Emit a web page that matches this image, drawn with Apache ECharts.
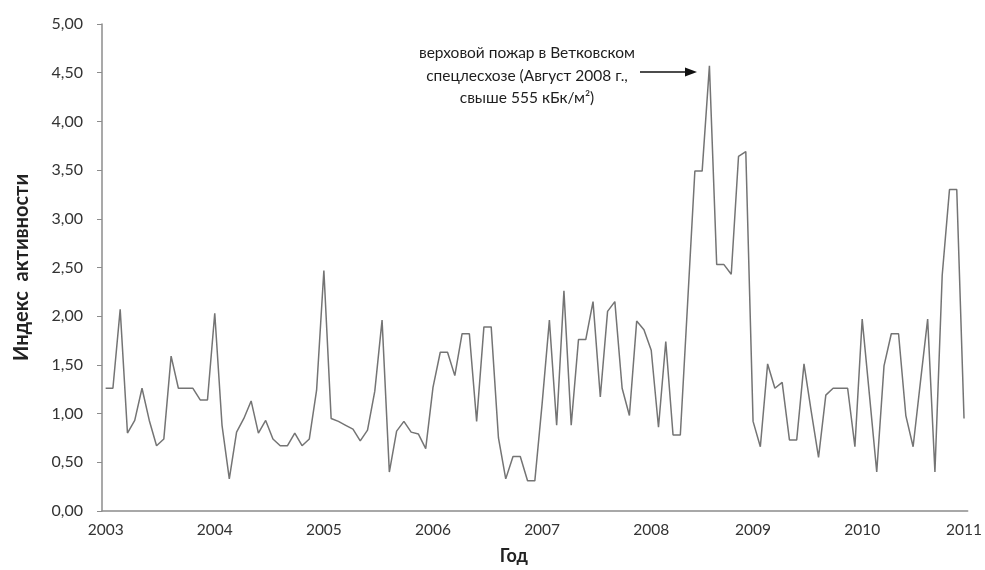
<!DOCTYPE html>
<html>
<head>
<meta charset="utf-8">
<script src="https://cdn.jsdelivr.net/npm/echarts@6/dist/echarts.min.js"></script>
<style>html,body{margin:0;padding:0;background:#fff;}#c{width:985px;height:570px;}</style>
</head>
<body>
<div id="c"></div>
<script>
const yearLabels = ['2003','2004','2005','2006','2007','2008','2009','2010','2011'];
const yearLabelIndex = [0,15,30,45,60,75,89,104,118];
const values = [
1.26,1.26,2.07,0.80,0.93,1.26,0.93,0.67,0.74,1.59,
1.26,1.26,1.26,1.14,1.14,2.03,0.88,0.33,0.81,0.95,
1.13,0.80,0.93,0.74,0.67,0.67,0.80,0.67,0.74,1.24,
2.47,0.95,0.92,0.88,0.84,0.72,0.83,1.23,1.96,0.40,
0.82,0.92,0.81,0.79,0.64,1.27,1.63,1.63,1.39,1.82,
1.82,0.92,1.89,1.89,0.75,0.33,0.56,0.56,0.31,0.31,
1.10,1.96,0.88,2.26,0.88,1.76,1.76,2.15,1.17,2.05,
2.15,1.26,0.98,1.95,1.86,1.65,0.86,1.74,0.78,0.78,
2.13,3.49,3.49,4.57,2.53,2.53,2.43,3.64,3.69,0.92,
0.66,1.51,1.26,1.32,0.73,0.73,1.51,1.02,0.55,1.19,
1.26,1.26,1.26,0.66,1.97,1.19,0.40,1.49,1.82,1.82,
0.98,0.66,1.32,1.97,0.40,2.42,3.30,3.30,0.95
];
const annotationText = 'верховой пожар в Ветковском\nспецлесхозе (Август 2008 г.,\nсвыше 555 кБк/м²)';
const yTitle = 'Индекс  активности';
const xTitle = 'Год';

const categories = values.map(() => '');
yearLabelIndex.forEach((idx, i) => { categories[idx] = yearLabels[i]; });

const FONT = 'Lato';
const chart = echarts.init(document.getElementById('c'), null, {renderer: 'canvas'});
chart.setOption({
  animation: false,
  backgroundColor: '#ffffff',
  grid: {left: 102, right: 15, top: 24, bottom: 57, containLabel: false},
  xAxis: {
    type: 'category',
    data: categories,
    boundaryGap: true,
    axisLine: {show: true, lineStyle: {color: '#8c8c8c', width: 1.5}},
    axisTick: {show: false},
    axisLabel: {interval: 0, color: '#333', fontSize: 15.5, fontFamily: FONT, margin: 11},
    name: xTitle,
    nameLocation: 'middle',
    nameGap: 36,
    nameTextStyle: {fontSize: 18, fontWeight: 'bold', color: '#222', fontFamily: FONT,
      padding: [0, 42, 0, 0]},
    splitLine: {show: false}
  },
  yAxis: {
    type: 'value',
    min: 0, max: 5, interval: 0.5,
    axisLine: {show: true, lineStyle: {color: '#8c8c8c', width: 1.5}},
    axisTick: {show: true, inside: false, length: 5, lineStyle: {color: '#8c8c8c'}},
    axisLabel: {color: '#333', fontSize: 16, fontFamily: FONT, margin: 19,
      formatter: v => v.toFixed(2).replace('.', ',')},
    splitLine: {show: false},
    name: yTitle,
    nameLocation: 'middle',
    nameRotate: 90,
    nameGap: 70,
    nameTextStyle: {fontSize: 20, fontWeight: 'bold', color: '#222', fontFamily: FONT}
  },
  series: [{
    type: 'line',
    data: values,
    symbol: 'none',
    lineStyle: {color: '#747474', width: 1.5},
    silent: true
  }],
  graphic: [
    {type: 'text', position: [527, 42], style: {text: annotationText, fill: '#1e1e1e',
      font: '15.5px ' + FONT, textAlign: 'center', textVerticalAlign: 'top', lineHeight: 22.5}},
    {type: 'line', shape: {x1: 640, y1: 72, x2: 688, y2: 72}, style: {stroke: '#111', lineWidth: 1.5}},
    {type: 'polygon', shape: {points: [[697, 72], [685, 67.5], [685, 76.5]]}, style: {fill: '#111'}}
  ]
});
</script>
</body>
</html>
